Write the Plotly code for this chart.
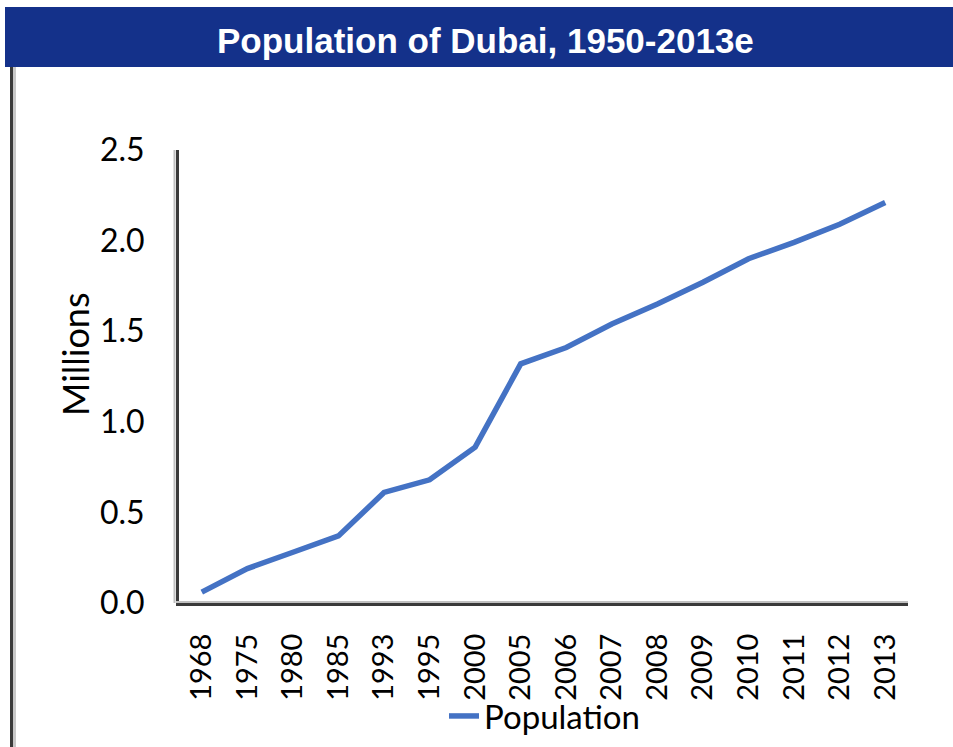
import plotly.graph_objects as go

years = ["1968", "1975", "1980", "1985", "1993", "1995", "2000", "2005",
         "2006", "2007", "2008", "2009", "2010", "2011", "2012", "2013"]
population_millions = [0.06, 0.19, 0.28, 0.37, 0.61, 0.68, 0.86, 1.32,
                       1.41, 1.54, 1.65, 1.77, 1.90, 1.99, 2.09, 2.21]
y_ticks = [0.0, 0.5, 1.0, 1.5, 2.0, 2.5]
y_tick_labels = ["0.0", "0.5", "1.0", "1.5", "2.0", "2.5"]
title_text = "Population of Dubai, 1950-2013e"
series_name = "Population"
y_title = "Millions"

W, H = 953, 747
def px(x):
    return x / W
def py(y):
    return 1 - y / H

FONT = "Lato, 'Open Sans', sans-serif"

fig = go.Figure()
fig.add_trace(go.Scatter(
    x=years, y=population_millions, mode="lines", name=series_name,
    line=dict(color="#4472C4", width=5.5),
))

fig.update_layout(
    width=W, height=H,
    margin=dict(l=0, r=0, t=0, b=0),
    paper_bgcolor="white", plot_bgcolor="white",
    showlegend=True,
    legend=dict(x=px(444), y=py(716), xanchor="left", yanchor="middle",
                orientation="h", font=dict(family=FONT, size=33, color="#000"),
                bgcolor="rgba(0,0,0,0)", itemwidth=30),
    xaxis=dict(
        domain=[px(179), px(908)], type="category", range=[-0.5, 15.5],
        showline=True, linecolor="#3a3a3a", linewidth=3,
        showgrid=False, zeroline=False, ticks="",
        tickangle=-90, tickfont=dict(family=FONT, size=29, color="#000"),
        ticklabelstandoff=16, automargin=False,
    ),
    yaxis=dict(
        domain=[py(603), py(150)], range=[0, 2.5],
        tickvals=y_ticks, ticktext=y_tick_labels,
        showline=True, linecolor="#3a3a3a", linewidth=3,
        showgrid=False, zeroline=False, ticks="",
        tickfont=dict(family=FONT, size=32, color="#000"),
        ticklabelstandoff=25, automargin=False,
    ),
    shapes=[
        dict(type="rect", xref="paper", yref="paper",
             x0=px(5), x1=1.0, y0=py(67), y1=py(7),
             fillcolor="#14318A", line=dict(width=0), layer="below"),
        dict(type="line", xref="paper", yref="paper",
             x0=px(11.5), x1=px(11.5), y0=py(67), y1=0,
             line=dict(color="#3a3a3a", width=3)),
        dict(type="line", xref="paper", yref="paper",
             x0=px(14.5), x1=px(14.5), y0=py(67), y1=0,
             line=dict(color="#c8c8c8", width=3)),
        dict(type="line", xref="paper", yref="paper",
             x0=px(174.5), x1=px(174.5), y0=py(150), y1=py(603),
             line=dict(color="#c0c0c0", width=2)),
        dict(type="line", xref="paper", yref="paper",
             x0=px(176), x1=px(908), y0=py(602), y1=py(602),
             line=dict(color="#c0c0c0", width=2)),
    ],
    annotations=[
        dict(text="<b>" + title_text + "</b>", xref="paper", yref="paper",
             x=px(485), y=py(40), xanchor="center", yanchor="middle",
             showarrow=False,
             font=dict(family="'Liberation Sans', Arial, sans-serif",
                       size=35, color="white")),
        dict(text=y_title, xref="paper", yref="paper",
             x=px(75), y=py(354), xanchor="center", yanchor="middle",
             textangle=-90, showarrow=False,
             font=dict(family=FONT, size=36, color="#000")),
    ],
)

# remove the default 8px page margin so the figure fills the window exactly
fig.write_html("out.html",
               config={"displayModeBar": False},
               post_script="document.body.style.margin='0px';"
                           "document.body.style.overflow='hidden';")
